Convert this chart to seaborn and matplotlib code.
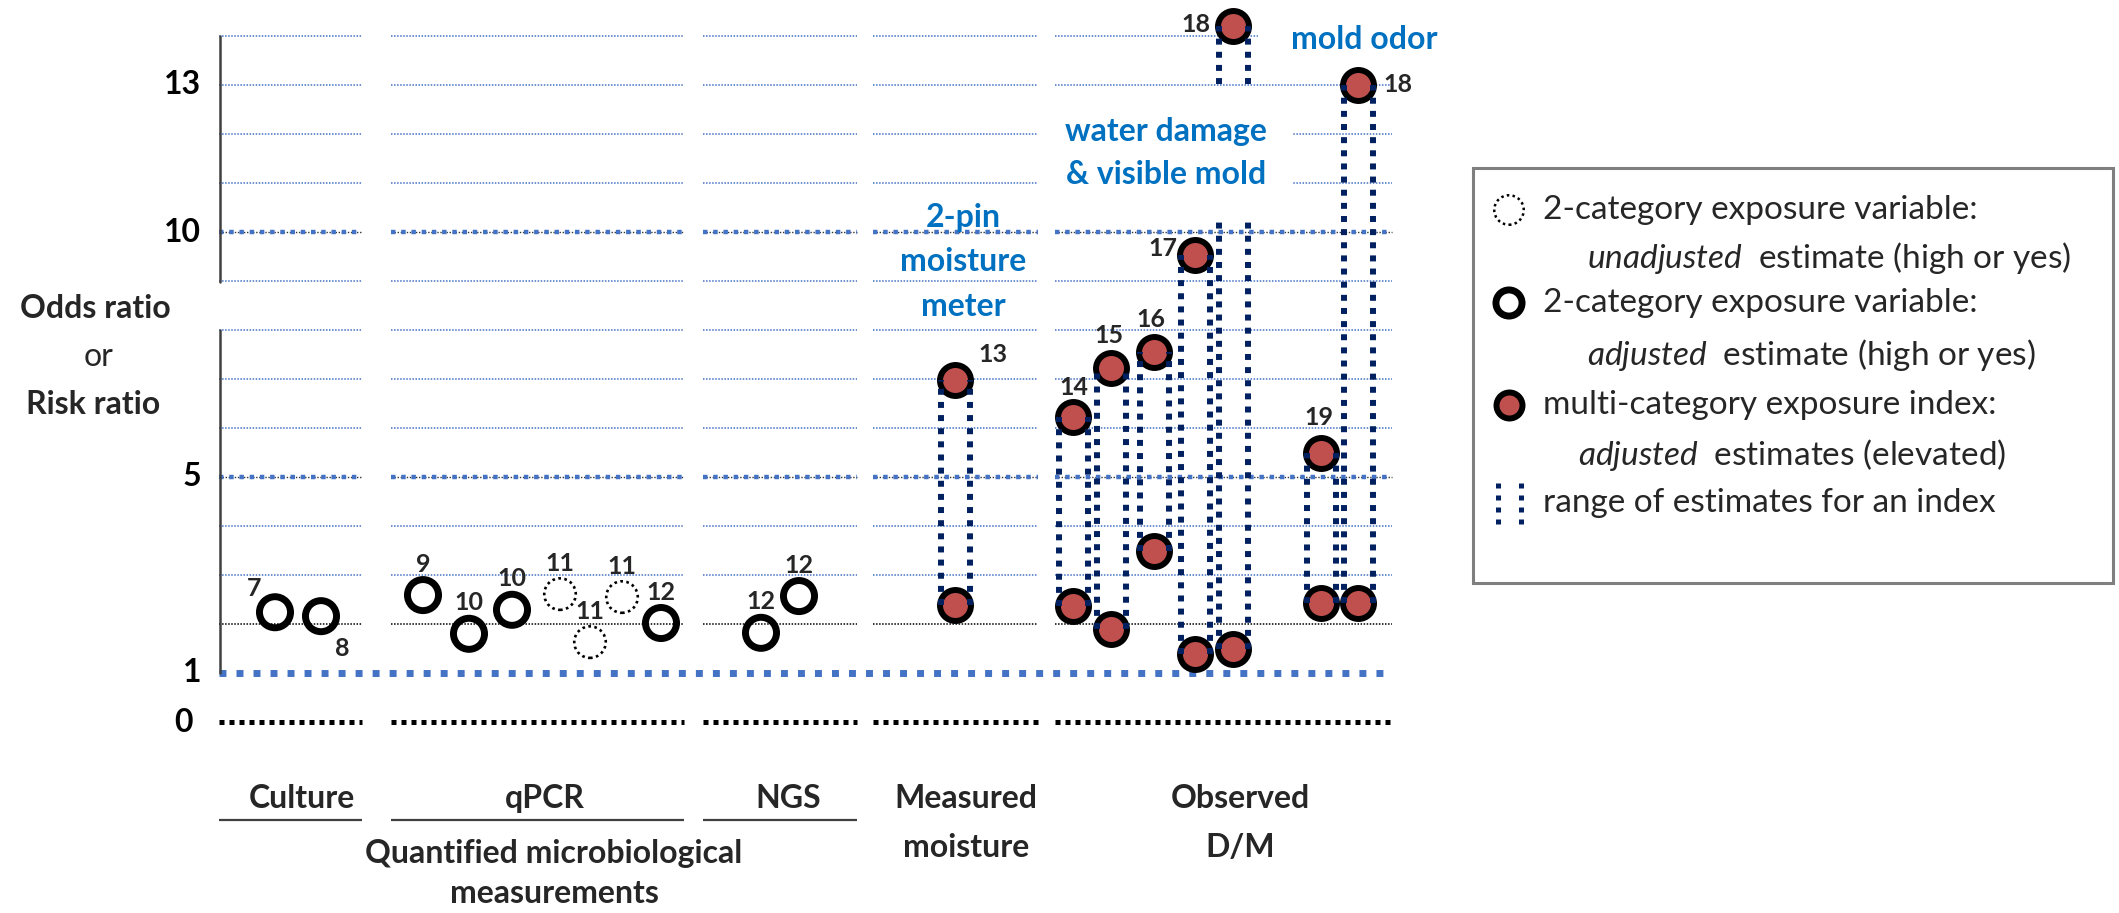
import matplotlib
matplotlib.use("Agg")
import matplotlib.pyplot as plt
import numpy as np
import pandas as pd
import seaborn as sns
from matplotlib.patches import Rectangle

# ------------------------------------------------------------------ data
group_names = ["Culture", "qPCR", "NGS", "Measured\nmoisture", "Observed\nD/M"]
y_tick_values = [0, 1, 5, 10, 13]

# 2-category exposure variables
two_cat_ref = ["7", "8", "9", "10", "10", "11", "11", "11", "12", "12", "12"]
two_cat_group = ["Culture", "Culture", "qPCR", "qPCR", "qPCR", "qPCR", "qPCR",
                 "qPCR", "qPCR", "NGS", "NGS"]
two_cat_x = [275, 321, 423, 469, 512, 560, 590, 622, 661, 761, 799]
two_cat_value = [2.24, 2.16, 2.59, 1.80, 2.29, 2.61, 1.63, 2.55, 2.02, 1.82, 2.57]
two_cat_kind = ["adjusted", "adjusted", "adjusted", "adjusted", "adjusted",
                "unadjusted", "unadjusted", "unadjusted",
                "adjusted", "adjusted", "adjusted"]

# multi-category exposure indices (range of adjusted estimates)
index_ref = ["13", "14", "15", "16", "17", "18", "19", "18"]
index_group = ["Measured\nmoisture"] + ["Observed\nD/M"] * 7
index_x = [955, 1073, 1111, 1154, 1195, 1233, 1321, 1358]
index_high = [6.98, 6.22, 7.22, 7.55, 9.53, 14.2, 5.49, 13.0]
index_low = [2.39, 2.37, 1.90, 3.49, 1.39, 1.49, 2.43, 2.43]

note_texts = ["2-pin\nmoisture\nmeter", "water damage\n& visible mold", "mold odor"]

legend_texts = ["2-category exposure variable:",
                r"$\mathit{unadjusted}$  estimate (high or yes)",
                "2-category exposure variable:",
                r"$\mathit{adjusted}$  estimate (high or yes)",
                "multi-category exposure index:",
                r"$\mathit{adjusted}$  estimates (elevated)",
                "range of estimates for an index"]

# ------------------------------------------------------------------ style
sns.set_theme(style="white")
plt.rcParams["font.family"] = ["Lato", "DejaVu Sans"]
plt.rcParams["mathtext.fontset"] = "custom"
plt.rcParams["mathtext.rm"] = "Lato"
plt.rcParams["mathtext.it"] = "Lato:italic"
plt.rcParams["mathtext.bf"] = "Lato:bold"

BLUE_GRID = "#4472C4"
NAVY = "#002060"
RED = "#C0504D"
NOTE_BLUE = "#0070C0"
AXIS_GRAY = "#404040"

W, H = 2119, 913
PX0, PXU = 722, 49.0          # pixel row of value 0, pixels per unit


def Y(py):
    """pixel row (from top) -> value units"""
    return (PX0 - py) / PXU


fig = plt.figure(figsize=(W / 100, H / 100), dpi=100)
ax = fig.add_axes([0, 0, 1, 1])
ax.set_xlim(0, W)
ax.set_ylim(Y(H), Y(0))
ax.axis("off")

segments = [(219, 362), (391, 684), (703, 857), (873, 1038), (1055, 1392)]
seg_left = [s[0] for s in segments]
seg_right = [s[1] for s in segments]


def seg_lines(level, **kw):
    ax.hlines([level] * len(seg_left), seg_left, seg_right, **kw)


# ------------------------------------------------------------------ gridlines
for lvl in range(2, 15):
    if lvl == 2:
        seg_lines(lvl, color="black", lw=1.1, linestyles=(0, (1, 1)), zorder=1)
    elif lvl in (5, 10):
        seg_lines(lvl, color="#333333", lw=1.0, linestyles=(0, (1, 1.2)), zorder=1)
        seg_lines(lvl, color=BLUE_GRID, lw=3.2, linestyles=(0, (1, 1.3)),
                  zorder=1.1, capstyle="butt")
    else:
        seg_lines(lvl, color=BLUE_GRID, lw=1.1, linestyles=(0, (1, 1)), zorder=1)

# value 1 reference line (continuous)
ax.hlines(1, seg_left[0], seg_right[-1], color=BLUE_GRID, lw=5,
          linestyles=(0, (1, 1.45)), zorder=1.2, capstyle="butt")
# value 0 line (segmented)
seg_lines(0, color="black", lw=3.6, linestyles=(0, (1, 1.0)), zorder=1.2,
          capstyle="butt")

# y axis (broken between 8 and 9)
ax.plot([220, 220], [1, 8.0], color=AXIS_GRAY, lw=1.8, zorder=2)
ax.plot([220, 220], [8.98, 14], color=AXIS_GRAY, lw=1.8, zorder=2)
for v in y_tick_values:
    ax.text(201 if v else 193, v, str(v), ha="right", va="center",
            fontsize=23, fontweight="bold", color="black")

ax.text(95, Y(308), "Odds ratio", ha="center", va="center", fontsize=23,
        fontweight="bold")
ax.text(99, Y(357), "or", ha="center", va="center", fontsize=23)
ax.text(93, Y(405), "Risk ratio", ha="center", va="center", fontsize=23,
        fontweight="bold")

# ------------------------------------------------------------------ points
two_df = pd.DataFrame({"ref": two_cat_ref, "group": two_cat_group,
                       "x": two_cat_x, "value": two_cat_value,
                       "kind": two_cat_kind})
adj = two_df[two_df["kind"] == "adjusted"]
unadj = two_df[two_df["kind"] == "unadjusted"]

sns.scatterplot(data=adj, x="x", y="value", ax=ax, s=500, facecolor="none",
                edgecolor="black", linewidth=5, zorder=3, legend=False)
sns.scatterplot(data=unadj, x="x", y="value", ax=ax, s=515, facecolor="none",
                edgecolor="black", linewidth=1.9, linestyle=(0, (1, 1.3)),
                zorder=3, legend=False)

idx_df = pd.DataFrame({"ref": index_ref, "group": index_group, "x": index_x,
                       "high": index_high, "low": index_low})
idx_long = idx_df.melt(id_vars=["ref", "group", "x"], value_vars=["high", "low"],
                       var_name="end", value_name="value")
sns.scatterplot(data=idx_long, x="x", y="value", ax=ax, s=497, color=RED,
                edgecolor="black", linewidth=4.3, zorder=3, legend=False)

# range of estimates: two dotted verticals per index
for side in (-14.5, 14.5):
    ax.vlines(idx_df["x"] + side, idx_df["low"], idx_df["high"], color=NAVY,
              lw=4.3, linestyles=(0, (1, 1.2)), zorder=4, capstyle="butt")

# reference-number labels
two_cat_offsets = [(-21, 24), (21, -32)] + [(0, 31)] * 9
for r, x, v, off in zip(two_cat_ref, two_cat_x, two_cat_value, two_cat_offsets):
    ax.annotate(r, xy=(x, v), xytext=off, textcoords="offset pixels",
                ha="center", va="center", fontsize=18, fontweight="bold",
                zorder=6)
index_offsets = [(38, 25), (1, 30), (-2, 33), (-3, 33), (-32, 7), (-37, 2),
                 (-2, 35), (40, 0)]
for r, x, v, off in zip(index_ref, index_x, index_high, index_offsets):
    ax.annotate(r, xy=(x, v), xytext=off, textcoords="offset pixels",
                ha="center", va="center", fontsize=18, fontweight="bold",
                zorder=6)

# ------------------------------------------------------------------ notes
ax.add_patch(Rectangle((1050, Y(222)), 243, Y(90) - Y(222), facecolor="white",
                       edgecolor="none", zorder=5))
ax.add_patch(Rectangle((1258, Y(60)), 192, Y(18) - Y(60), facecolor="white",
                       edgecolor="none", zorder=5))
for line, py in zip(note_texts[0].split("\n"), (217, 262, 307)):
    ax.text(963, Y(py), line, ha="center", va="center", fontsize=23,
            fontweight="bold", color=NOTE_BLUE, zorder=6)
for line, py in zip(note_texts[1].split("\n"), (132, 175)):
    ax.text(1166, Y(py), line, ha="center", va="center", fontsize=23,
            fontweight="bold", color=NOTE_BLUE, zorder=6)
ax.text(1364, Y(40), note_texts[2], ha="center", va="center", fontsize=23,
        fontweight="bold", color=NOTE_BLUE, zorder=6)

# ------------------------------------------------------------------ group labels
label_x = [302, 545, 788, 966, 1240]
for name, lx in zip(group_names, label_x):
    for line, py in zip(name.split("\n"), (798, 847)):
        ax.text(lx, Y(py), line, ha="center", va="center", fontsize=23,
                fontweight="bold")
ax.hlines([Y(820)] * 3, seg_left[:3], seg_right[:3], color=AXIS_GRAY, lw=1.6)
ax.text(554, Y(853), "Quantified microbiological", ha="center", va="center",
        fontsize=23, fontweight="bold")
ax.text(554, Y(893), "measurements", ha="center", va="center",
        fontsize=23, fontweight="bold")

# ------------------------------------------------------------------ legend
ax.add_patch(Rectangle((1473, Y(583)), 2113 - 1473, Y(168) - Y(583),
                       facecolor="white", edgecolor="#7F7F7F", lw=2.2, zorder=5))
ax.scatter([1509], [Y(210)], s=450, facecolor="none", edgecolor="black",
           linewidth=1.8, linestyle=(0, (1, 1.3)), zorder=6)
ax.scatter([1509], [Y(303)], s=353, facecolor="none", edgecolor="black",
           linewidth=5, zorder=6)
ax.scatter([1509], [Y(405)], s=350, color=RED, edgecolor="black",
           linewidth=4.3, zorder=6)
ax.vlines([1498, 1521], [Y(524)] * 2, [Y(482)] * 2, color=NAVY, lw=3.6,
          linestyles=(0, (1, 1.4)), zorder=6, capstyle="butt")
legend_pos = [(1543, 210), (1587, 258), (1543, 303), (1587, 355),
              (1543, 405), (1578, 455), (1543, 503)]
for txt, (lx, py) in zip(legend_texts, legend_pos):
    ax.text(lx, Y(py), txt, ha="left", va="center", fontsize=24, zorder=7)

fig.savefig("out.png", dpi=100)
